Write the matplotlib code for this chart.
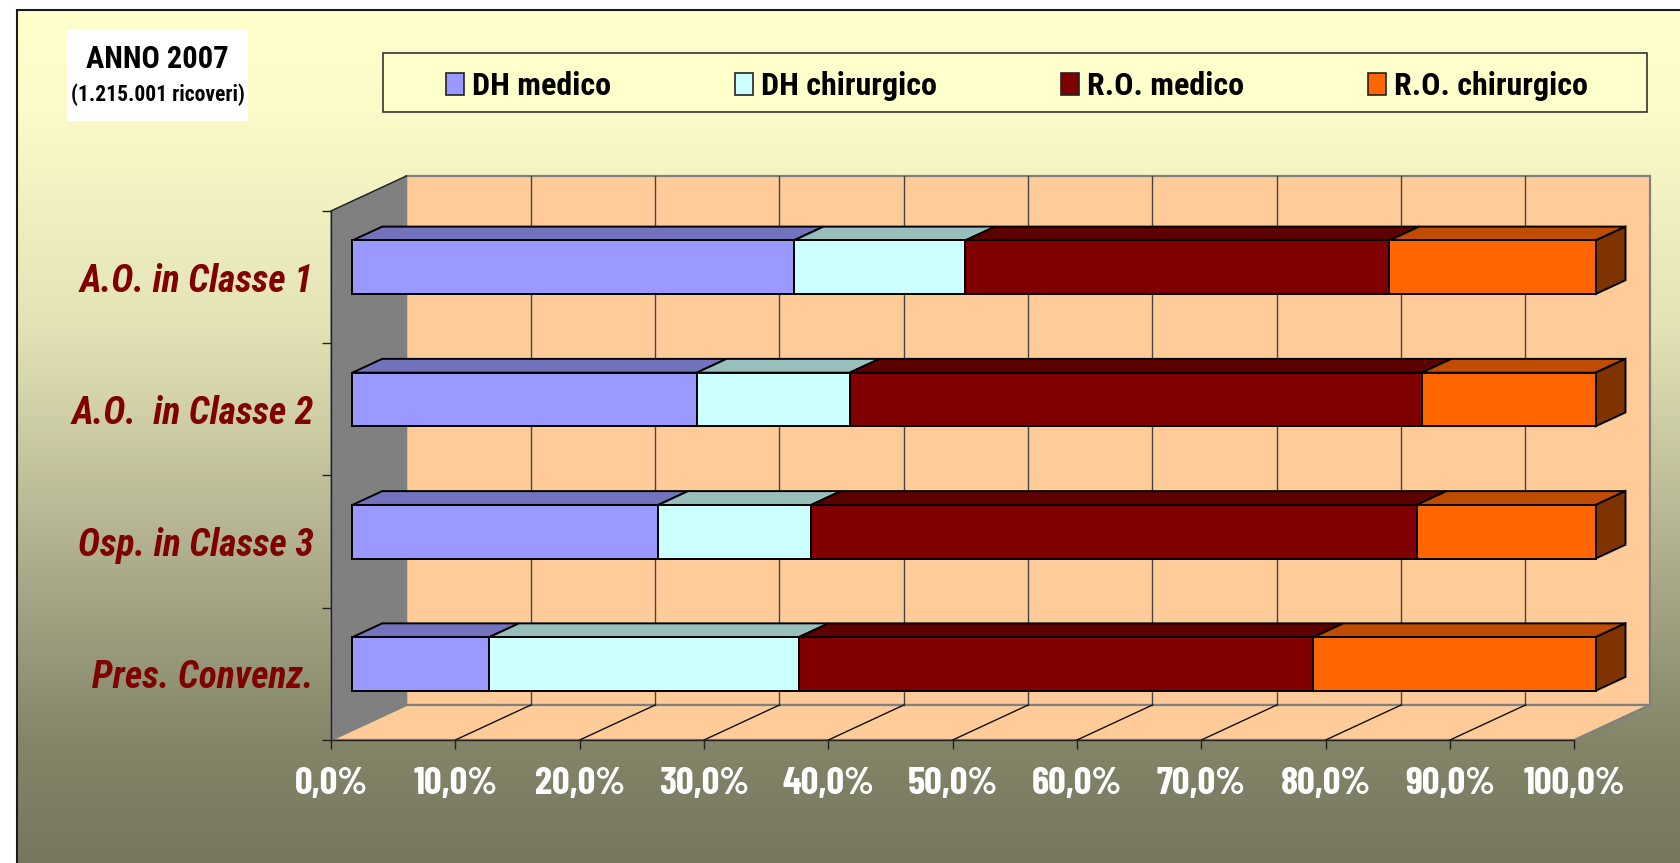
import numpy as np
import matplotlib
matplotlib.use("Agg")
import matplotlib.pyplot as plt
from matplotlib.patches import Polygon, Patch, Rectangle
from matplotlib.colors import LinearSegmentedColormap

categories = ["A.O. in Classe 1", "A.O.  in Classe 2", "Osp. in Classe 3", "Pres. Convenz."]
series_names = ["DH medico", "DH chirurgico", "R.O. medico", "R.O. chirurgico"]
dh_medico = [35.5, 27.7, 24.6, 11.0]
dh_chirurgico = [13.8, 12.3, 12.3, 24.9]
ro_medico = [34.1, 46.0, 48.7, 41.4]
ro_chirurgico = [16.6, 14.0, 14.4, 22.7]
x_ticks = [0, 10, 20, 30, 40, 50, 60, 70, 80, 90, 100]
x_tick_labels = ["0,0%", "10,0%", "20,0%", "30,0%", "40,0%", "50,0%", "60,0%", "70,0%", "80,0%", "90,0%", "100,0%"]

front_colors = ["#9999FF", "#CCFFFF", "#800000", "#FF6600"]
top_colors = ["#7272BD", "#99BFBD", "#5C0000", "#BF4C00"]
side_color = "#7F3300"
wall_color = "#FFCC99"
side_wall = "#808080"
dark_red = "#800000"

W, H = 1681, 863
cond = ["Roboto Condensed", "Liberation Sans", "DejaVu Sans"]
tick_font = ["Barlow Condensed", "Liberation Sans", "DejaVu Sans"]
plt.rcParams["font.family"] = cond

fig = plt.figure(figsize=(W / 100, H / 100), dpi=100, facecolor="white")


def px_axes(x0, y0, x1, y1, **kw):
    return fig.add_axes([x0 / W, 1 - y1 / H, (x1 - x0) / W, (y1 - y0) / H], **kw)


# background panel
bg = px_axes(0, 0, W, H)
bg.axis("off")
stops = [(0.0, "#FFFFCC"), (0.12, "#FBFAC8"), (0.37, "#E4E3B6"), (0.66, "#ABAB8B"), (0.855, "#858569"), (1.0, "#777760")]
cmap = LinearSegmentedColormap.from_list("panel", stops)
bg.imshow(np.linspace(0, 1, 512)[:, None], cmap=cmap, aspect="auto", extent=(17.5, W, H, 10.5), zorder=1)
bg.plot([17.5, 17.5, W], [H, 10.5, 10.5], color="#1a1a1a", lw=1.5, zorder=2, solid_joinstyle="miter")
bg.set_xlim(0, W)
bg.set_ylim(H, 0)
bg.add_patch(Rectangle((67, 30), 181, 91, fc="white", ec="none", zorder=3))
bg.text(157.5, 59, "ANNO 2007", ha="center", va="center", fontsize=22, fontweight="bold", color="black", zorder=4)
bg.text(157.5, 95, "(1.215.001 ricoveri)", ha="center", va="center", fontsize=15.5, fontweight="bold", color="black", zorder=4)
bg.add_patch(Rectangle((383.5, 53.5), 1647 - 383.5, 58.8, fc="#FFFFCC", ec="#333333", lw=1.2, zorder=3))

# main chart
ax = px_axes(331, 211, 1574.3, 740)
ax.patch.set_alpha(0)
ax.set_xlim(0, 100)
ax.set_ylim(0, len(categories))

DX = 75.5 / 12.433
DY = 35 / 132.25
BAR_NEAR, BAR_FAR = 0.283, 0.678
BAR_H = 0.405


def proj(v, c, d):
    return (v + d * DX, c + d * DY)


def face(pts, fc, ec="black", lw=1.4, z=3):
    ax.add_patch(Polygon([proj(*p) for p in pts], closed=True, fc=fc, ec=ec, lw=lw, zorder=z,
                         clip_on=False, joinstyle="miter"))


n = len(categories)
face([(0, 0, 1), (100, 0, 1), (100, n, 1), (0, n, 1)], wall_color, ec="#808080", lw=1.6, z=1)
face([(0, 0, 0), (0, n, 0), (0, n, 1), (0, 0, 1)], side_wall, ec="#808080", lw=1, z=1.1)
face([(0, 0, 0), (100, 0, 0), (100, 0, 1), (0, 0, 1)], wall_color, ec="#808080", lw=1.6, z=1.1)
ax.plot(*zip(proj(0, n, 0), proj(0, n, 1)), color="#222222", lw=1, zorder=1.2, clip_on=False)
for t in x_ticks[1:-1]:
    ax.plot(*zip(proj(t, 0, 1), proj(t, n, 1)), color="#444444", lw=1, zorder=1.3, clip_on=False)
    ax.plot(*zip(proj(t, 0, 0), proj(t, 0, 1)), color="#111111", lw=1, zorder=1.3, clip_on=False)

# stacked 3D bars, top category first
rows = np.array([dh_medico, dh_chirurgico, ro_medico, ro_chirurgico], dtype=float)
z = 3
for i in range(n):
    c = n - 1 - i + 0.5
    b, t = c - BAR_H / 2, c + BAR_H / 2
    left = 0.0
    for s in range(4):
        right = left + rows[s, i]
        face([(left, t, BAR_NEAR), (right, t, BAR_NEAR), (right, t, BAR_FAR), (left, t, BAR_FAR)], top_colors[s], z=z)
        face([(left, b, BAR_NEAR), (right, b, BAR_NEAR), (right, t, BAR_NEAR), (left, t, BAR_NEAR)], front_colors[s], z=z + 0.5)
        left = right
    face([(left, b, BAR_NEAR), (left, b, BAR_FAR), (left, t, BAR_FAR), (left, t, BAR_NEAR)], side_color, z=z + 0.4)
    z += 1

# axes
for sp in ("top", "right"):
    ax.spines[sp].set_visible(False)
for sp in ("left", "bottom"):
    ax.spines[sp].set_color("#222222")
    ax.spines[sp].set_linewidth(1)
    ax.spines[sp].set_zorder(2)
ax.set_xticks(x_ticks)
ax.set_xticklabels(x_tick_labels, fontsize=28, fontweight="bold", color="white", family=tick_font)
ax.tick_params(axis="x", length=6.5, width=1, color="#222222", pad=13)
ax.set_yticks(range(n + 1))
ax.set_yticklabels([])
ax.tick_params(axis="y", which="major", length=6.5, width=1, color="#222222")
ax.set_yticks([n - 1 - i + 0.5 for i in range(n)], minor=True)
ax.set_yticklabels(categories, minor=True, fontsize=27, fontweight="bold", fontstyle="italic", color=dark_red)
ax.tick_params(axis="y", which="minor", length=0, pad=12.5)
for lab in ax.get_yticklabels(minor=True):
    lab.set_verticalalignment("center_baseline")

# legend
handles = [Patch(fc=front_colors[i], ec="#222222", lw=1.2, label=series_names[i]) for i in range(4)]
leg = fig.legend(handles=handles, ncol=4, loc="center", bbox_to_anchor=(1017 / W, 1 - 86 / H),
                 frameon=False, prop={"family": cond, "weight": "bold", "size": 23},
                 handlelength=0.56, handleheight=0.68, handletextpad=0.25, columnspacing=3.88,
                 borderpad=0, borderaxespad=0)
leg.set_zorder(10)

fig.savefig("out.png", dpi=100, facecolor="white")
